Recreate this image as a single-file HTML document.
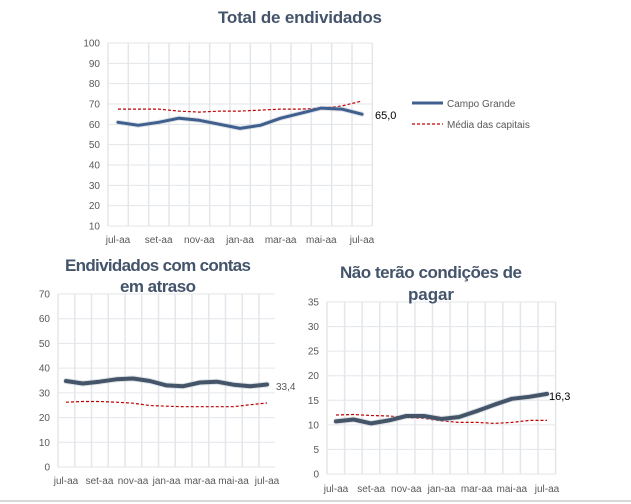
<!DOCTYPE html>
<html><head><meta charset="utf-8"><style>
html,body{margin:0;padding:0;background:#fff;width:631px;height:504px;overflow:hidden}
svg{display:block}
text{font-family:"Liberation Sans",sans-serif}
.t{font-size:10px;fill:#595959}
.h{font-size:17px;font-weight:bold;fill:#44546a}
</style></head><body>
<svg id="s" width="631" height="504" viewBox="0 0 631 504">
<g id="g"></g>
<text class="h" x="300" y="23" text-anchor="middle" textLength="164">Total de endividados</text>
<text class="h" x="158" y="271" text-anchor="middle" textLength="186">Endividados  com contas</text>
<text class="h" x="158" y="292" text-anchor="middle" textLength="76">em atraso</text>
<text class="h" x="431" y="278" text-anchor="middle" textLength="182">Não terão condições de</text>
<text class="h" x="431" y="300" text-anchor="middle" textLength="46">pagar</text>
<line x1="412" y1="103" x2="443" y2="103" stroke="#3f5f8f" stroke-width="3"/>
<text class="t" x="447" y="107">Campo Grande</text>
<line x1="412" y1="124" x2="443" y2="124" stroke="#c00000" stroke-width="1.2" stroke-dasharray="3,2"/>
<text class="t" x="447" y="128">Média das capitais</text>
<text x="375" y="119" style="font-size:11px;fill:#000">65,0</text>
<text x="276" y="390" style="font-size:10px;fill:#595959">33,4</text>
<text x="549" y="400" style="font-size:11px;fill:#000">16,3</text>
<line x1="0" y1="501" x2="631" y2="501" stroke="#d9d9d9" stroke-width="2"/>
</svg>
<script>
const g=document.getElementById('g');const NS='http://www.w3.org/2000/svg';
function el(n,a,t){const e=document.createElementNS(NS,n);for(const k in a)e.setAttribute(k,a[k]);if(t!==undefined)e.textContent=t;g.appendChild(e);return e;}
function chart(o){
 const {L,R,T,B,vmin,vmax,step,p0,p1,cg,md,ly,cw,cc}=o;
 const Y=v=>B-(v-vmin)*(B-T)/(vmax-vmin);
 for(let v=vmin;v<=vmax+0.001;v+=step){el('line',{x1:L,x2:R,y1:Y(v),y2:Y(v),stroke:'#e3e6ea','stroke-width':1});
  el('text',{x:L-8,y:Y(v)+3.5,'text-anchor':'end',class:'t'},String(v));}
 const dx=(p1-p0)/12;
 for(let x=L;x<=R+0.5;x+=dx)el('line',{x1:x,x2:x,y1:T,y2:B,stroke:'#e3e6ea','stroke-width':1.5});
 const labs=['jul-aa','set-aa','nov-aa','jan-aa','mar-aa','mai-aa','jul-aa'];
 labs.forEach((l,i)=>el('text',{x:p0+2*i*dx,y:ly,'text-anchor':'middle',class:'t'},l));
 const pts=a=>a.map((v,i)=>(p0+i*dx).toFixed(1)+','+Y(v).toFixed(1)).join(' ');
 el('polyline',{points:pts(md),fill:'none',stroke:'#c00000','stroke-width':1.2,'stroke-dasharray':'3,2'});
 el('polyline',{points:pts(cg),fill:'none',stroke:'#bfc5ce','stroke-width':cw+2,'stroke-linejoin':'round','stroke-linecap':'round',opacity:0.5});
 el('polyline',{points:pts(cg),fill:'none',stroke:cc,'stroke-width':cw,'stroke-linejoin':'round','stroke-linecap':'round'});
}
chart({L:108,R:372,T:43,B:226,vmin:10,vmax:100,step:10,p0:118,p1:362,ly:243,cw:3,cc:'#3f5f8f',
 cg:[61,59.5,61,63,62,60,58,59.5,63,65.5,68,67.5,65],
 md:[67.5,67.5,67.5,66.5,66,66.5,66.5,67,67.5,67.5,68,69,71.5]});
chart({L:58,R:275,T:294,B:467,vmin:0,vmax:70,step:10,p0:66,p1:267,ly:484,cw:4,cc:'#445469',
 cg:[34.8,33.8,34.5,35.5,35.8,34.8,33,32.7,34.2,34.5,33.3,32.7,33.4],
 md:[26.2,26.5,26.5,26.2,25.8,24.9,24.6,24.4,24.4,24.4,24.4,25.2,25.9]});
chart({L:327,R:556,T:302,B:474,vmin:0,vmax:35,step:5,p0:336,p1:547,ly:492,cw:4,cc:'#445469',
 cg:[10.7,11.1,10.3,10.9,11.8,11.8,11.2,11.6,12.8,14.1,15.3,15.7,16.3],
 md:[12,12.1,11.9,11.8,11.5,11.3,10.8,10.5,10.5,10.3,10.5,10.9,10.9]});
</script>
</body></html>
